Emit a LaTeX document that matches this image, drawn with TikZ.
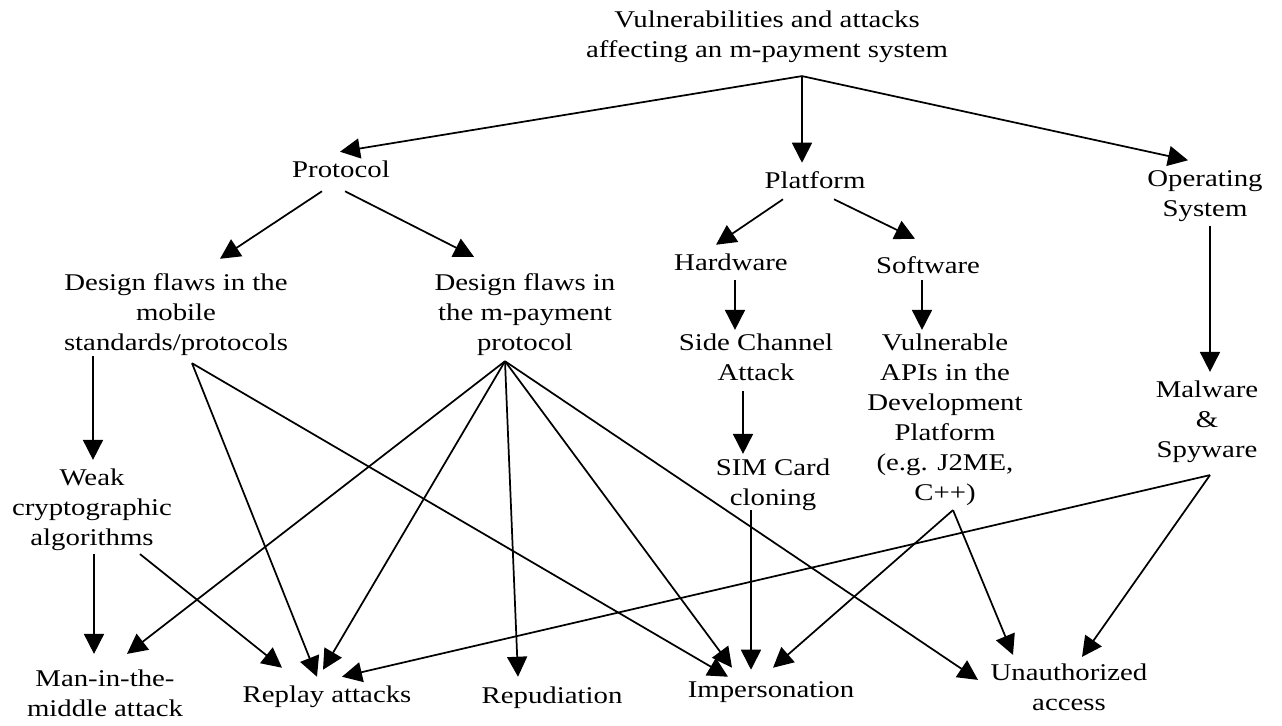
\documentclass[tikz,border=0pt]{standalone}
\usepackage{fontspec}
\setmainfont[FakeStretch=1.2]{Liberation Serif}
\usetikzlibrary{arrows.meta,calc}
\begin{document}
\begin{tikzpicture}[x=0.75pt,y=-0.75pt,
  lbl/.style={inner sep=0pt, align=center, font=\fontsize{18pt}{22.5pt}\selectfont,
    execute at begin node=\strut, execute at end node=\strut},
  arr/.style={line width=1.3pt, -{Triangle[length=15pt,width=15pt]}}]
\fill[white] (0,0) rectangle (1282,725);
\useasboundingbox (0,0) rectangle (1282,725);

\node[lbl] (title) at (767,39) {Vulnerabilities and attacks\\affecting an m-payment system};
\node[lbl] (prot) at (341,171) {Protocol};
\node[lbl] (plat) at (815,182) {Platform};
\node[lbl] (os) at (1205,198) {Operating\\System};
\node[lbl] (hw) at (731,264) {Hardware};
\node[lbl] (sw) at (928,267) {Software};
\node[lbl] (sca) at (756,362) {Side Channel\\Attack};
\node[lbl] (api) at (945,422) {Vulnerable\\APIs in the\\Development\\Platform\\(e.g. J2ME,\\C++)};
\node[lbl] (sim) at (773,487) {SIM Card\\cloning};
\node[lbl] (mal) at (1207,424) {Malware\\\&\\Spyware};
\node[lbl] (dfm) at (176,317) {Design flaws in the\\mobile\\standards/protocols};
\node[lbl] (dfp) at (525,317) {Design flaws in\\the m-payment\\protocol};
\node[lbl] (weak) at (92,512) {Weak\\cryptographic\\algorithms};
\node[lbl] (mitm) at (105,698) {Man-in-the-\\middle attack};
\node[lbl] (rep) at (327,696) {Replay attacks};
\node[lbl] (repu) at (552,697) {Repudiation};
\node[lbl] (imp) at (771,691) {Impersonation};
\node[lbl] (un) at (1069,692) {Unauthorized\\access};

% top level
\draw[arr] ($(title.south)+(35,9)$) -- ($(prot.north)+(-1,-4)$);
\draw[arr] ($(title.south)+(35,9)$) -- ($(plat.north)+(-13,-4)$);
\draw[arr] ($(title.south)+(35,9)$) -- ($(os.north)+(-17,-10)$);
% protocol
\draw[arr] ($(prot.south)+(-19,5)$) -- ($(dfm.north)+(44,-15)$);
\draw[arr] ($(prot.south)+(4,5)$) -- ($(dfp.north)+(-51,-17)$);
% platform
\draw[arr] ($(plat.south)+(-32,2)$) -- ($(hw.north)+(-15,-4)$);
\draw[arr] ($(plat.south)+(19,2)$) -- ($(sw.north)+(-13,-13)$);
\draw[arr] ($(hw.south)+(4,1)$) -- ($(sca.north)+(-21,-4)$);
\draw[arr] ($(sw.south)+(-6,-2)$) -- ($(api.north)+(-23,-4)$);
\draw[arr] ($(os.south)+(5,0)$) -- ($(mal.north)+(3,-9)$);
\draw[arr] ($(sca.south)+(-13,1)$) -- ($(sim.north)+(-30,-5)$);
% mobile standards
\draw[arr] ($(dfm.south)+(-83,-4)$) -- ($(weak.north)+(1,-9)$);
\draw[arr] ($(weak.south)+(2,-1)$) -- ($(mitm.north)+(-11,-16)$);
\draw[arr] ($(weak.south)+(48,-1)$) -- ($(rep.north)+(-45,-13)$);
\draw[arr] ($(dfm.south)+(16,3)$) -- ($(rep.north)+(-10,-4)$);
\draw[arr] ($(dfm.south)+(16,3)$) -- ($(imp.north)+(-43,1)$);
% m-payment protocol
\draw[arr] ($(dfp.south)+(-20,1)$) -- ($(mitm.north)+(22,-16)$);
\draw[arr] ($(dfp.south)+(-20,1)$) -- ($(rep.north)+(-4,-11)$);
\draw[arr] ($(dfp.south)+(-20,1)$) -- ($(repu.north)+(-34,-5)$);
\draw[arr] ($(dfp.south)+(-20,1)$) -- ($(imp.north)+(-39,-8)$);
\draw[arr] ($(dfp.south)+(-20,1)$) -- ($(un.north)+(-91,16)$);
% platform leaves
\draw[arr] ($(sim.south)+(-22,-5)$) -- ($(imp.north)+(-20,-6)$);
\draw[arr] ($(api.south)+(8,0)$) -- ($(imp.north)+(2,-8)$);
\draw[arr] ($(api.south)+(8,0)$) -- ($(un.north)+(-56,-9)$);
% malware
\draw[arr] ($(mal.south)+(3,8)$) -- ($(rep.north)+(15,-4)$);
\draw[arr] ($(mal.south)+(3,8)$) -- ($(un.north)+(13,-7)$);
\end{tikzpicture}
\end{document}
